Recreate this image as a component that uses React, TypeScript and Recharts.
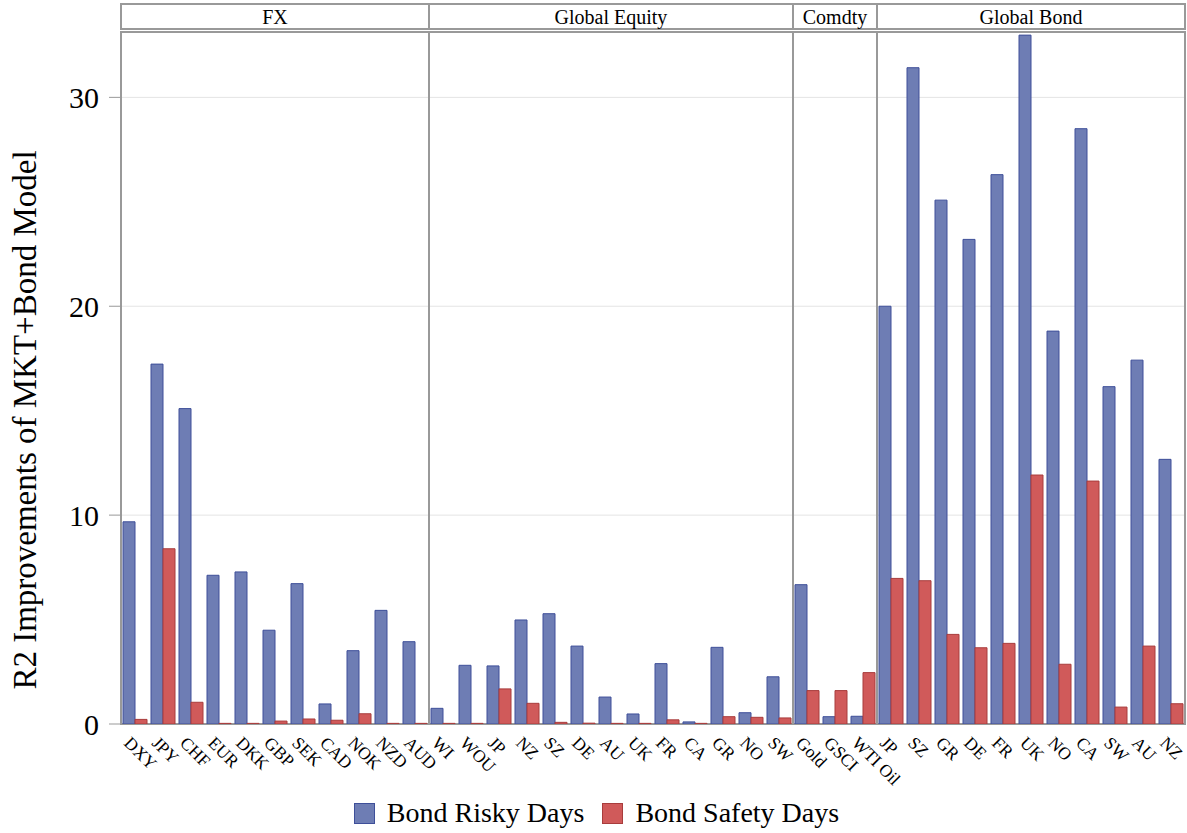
import { Bar, BarChart, CartesianGrid, Legend, ReferenceArea, XAxis, YAxis } from 'recharts';

const FONT = '"Liberation Serif", "Times New Roman", serif';
const BLUE = '#6e7db4';
const BLUE_EDGE = '#3e4f99';
const RED = '#d05a5a';
const RED_EDGE = '#a83c3c';
const BORDER = '#999999';

// categories and values per panel
const fxCategories = ['DXY', 'JPY', 'CHF', 'EUR', 'DKK', 'GBP', 'SEK', 'CAD', 'NOK', 'NZD', 'AUD'];
const fxRisky = [9.68, 17.23, 15.1, 7.12, 7.28, 4.49, 6.72, 0.96, 3.51, 5.44, 3.94];
const fxSafety = [0.22, 8.39, 1.04, 0.03, 0.03, 0.14, 0.24, 0.18, 0.49, 0.03, 0.03];

const eqCategories = ['WI', 'WOU', 'JP', 'NZ', 'SZ', 'DE', 'AU', 'UK', 'FR', 'CA', 'GR', 'NO', 'SW'];
const eqRisky = [0.75, 2.81, 2.78, 4.98, 5.28, 3.73, 1.29, 0.48, 2.89, 0.1, 3.67, 0.54, 2.26];
const eqSafety = [0.03, 0.03, 1.68, 0.99, 0.08, 0.04, 0.03, 0.03, 0.2, 0.03, 0.35, 0.32, 0.29];

const cmCategories = ['Gold', 'GSCI', 'WTI Oil'];
const cmRisky = [6.67, 0.35, 0.37];
const cmSafety = [1.6, 1.6, 2.46];

const bdCategories = ['JP', 'SZ', 'GR', 'DE', 'FR', 'UK', 'NO', 'CA', 'SW', 'AU', 'NZ'];
const bdRisky = [20.0, 31.42, 25.08, 23.2, 26.3, 32.98, 18.81, 28.5, 16.15, 17.42, 12.67];
const bdSafety = [6.97, 6.86, 4.29, 3.65, 3.86, 11.92, 2.86, 11.63, 0.81, 3.73, 0.97];

const yTicks = [0, 10, 20, 30];

const panels = [
  { name: 'FX', prefix: 'fx', categories: fxCategories, risky: fxRisky, safety: fxSafety },
  { name: 'Global Equity', prefix: 'eq', categories: eqCategories, risky: eqRisky, safety: eqSafety },
  { name: 'Comdty', prefix: 'cm', categories: cmCategories, risky: cmRisky, safety: cmSafety },
  { name: 'Global Bond', prefix: 'bd', categories: bdCategories, risky: bdRisky, safety: bdSafety },
];

const data = panels.flatMap((p) =>
  p.categories.map((c, i) => ({
    key: `${p.prefix}-${c}`,
    risky: p.risky[i],
    safety: p.safety[i],
  }))
);

const labelOf = (key: string) => key.slice(key.indexOf('-') + 1);

// panel frame / strip heights in data units
const PANEL_TOP = 33.13;
const STRIP_BOTTOM = 33.27;
const Y_MAX = 34.47;

function AngledTick({ x, y, payload }: any) {
  const tx = x - 12;
  const ty = y + 12;
  return (
    <text
      x={tx}
      y={ty}
      transform={`rotate(45, ${tx}, ${ty})`}
      textAnchor="start"
      fontSize={17.5}
      fontFamily={FONT}
      fill="#000"
    >
      {labelOf(payload.value)}
    </text>
  );
}

function YTitle() {
  const cx = 25;
  const cy = 420;
  return (
    <text
      x={cx}
      y={cy}
      transform={`rotate(-90, ${cx}, ${cy})`}
      textAnchor="middle"
      dominantBaseline="central"
      fontSize={33}
      fontFamily={FONT}
      fill="#000"
    >
      R2 Improvements of MKT+Bond Model
    </text>
  );
}

function LegendBox() {
  const items = [
    { label: 'Bond Risky Days', fill: BLUE, edge: BLUE_EDGE },
    { label: 'Bond Safety Days', fill: RED, edge: RED_EDGE },
  ];
  return (
    <div
      style={{
        display: 'flex',
        justifyContent: 'center',
        alignItems: 'center',
        height: 40,
        paddingLeft: 8,
        fontFamily: FONT,
        fontSize: 28,
        color: '#000',
      }}
    >
      {items.map((it, i) => (
        <div key={it.label} style={{ display: 'flex', alignItems: 'center', marginLeft: i ? 18 : 0 }}>
          <span
            style={{
              display: 'inline-block',
              width: 19,
              height: 19,
              background: it.fill,
              border: `1px solid ${it.edge}`,
              marginRight: 12,
            }}
          />
          <span>{it.label}</span>
        </div>
      ))}
    </div>
  );
}

export default function App() {
  return (
    <div style={{ position: 'absolute', left: 0, top: 0, width: 1187, height: 833, background: '#fff' }}>
      <BarChart
        width={1187}
        height={833}
        data={data}
        margin={{ top: 4, right: 2, bottom: 0, left: 0 }}
        barCategoryGap={2}
        barGap={0}
      >
        <CartesianGrid vertical={false} stroke="#e4e4e4" />
        <XAxis
          dataKey="key"
          interval={0}
          height={69}
          axisLine={false}
          tickLine={false}
          tick={<AngledTick />}
        />
        <YAxis
          width={121}
          domain={[0, Y_MAX]}
          allowDataOverflow
          ticks={yTicks}
          axisLine={false}
          tickLine={{ stroke: BORDER }}
          tickSize={12}
          tickMargin={10}
          tick={{ fontSize: 30, fill: '#000', fontFamily: FONT }}
          label={<YTitle />}
        />
        {panels.map((p) => (
          <ReferenceArea
            key={`frame-${p.prefix}`}
            x1={`${p.prefix}-${p.categories[0]}`}
            x2={`${p.prefix}-${p.categories[p.categories.length - 1]}`}
            y1={0}
            y2={PANEL_TOP}
            ifOverflow="visible"
            fill="none"
            fillOpacity={0}
            stroke={BORDER}
            strokeWidth={2}
          />
        ))}
        {panels.map((p) => (
          <ReferenceArea
            key={`strip-${p.prefix}`}
            x1={`${p.prefix}-${p.categories[0]}`}
            x2={`${p.prefix}-${p.categories[p.categories.length - 1]}`}
            y1={STRIP_BOTTOM}
            y2={Y_MAX}
            ifOverflow="visible"
            fill="#fff"
            fillOpacity={1}
            stroke={BORDER}
            strokeWidth={2}
            label={{ value: p.name, position: 'center', fontSize: 20, fontFamily: FONT, fill: '#000' }}
          />
        ))}
        <Bar dataKey="risky" name="Bond Risky Days" fill={BLUE} stroke={BLUE_EDGE} strokeWidth={1} isAnimationActive={false} />
        <Bar dataKey="safety" name="Bond Safety Days" fill={RED} stroke={RED_EDGE} strokeWidth={1} isAnimationActive={false} />
        <Legend verticalAlign="bottom" content={<LegendBox />} />
      </BarChart>
    </div>
  );
}
